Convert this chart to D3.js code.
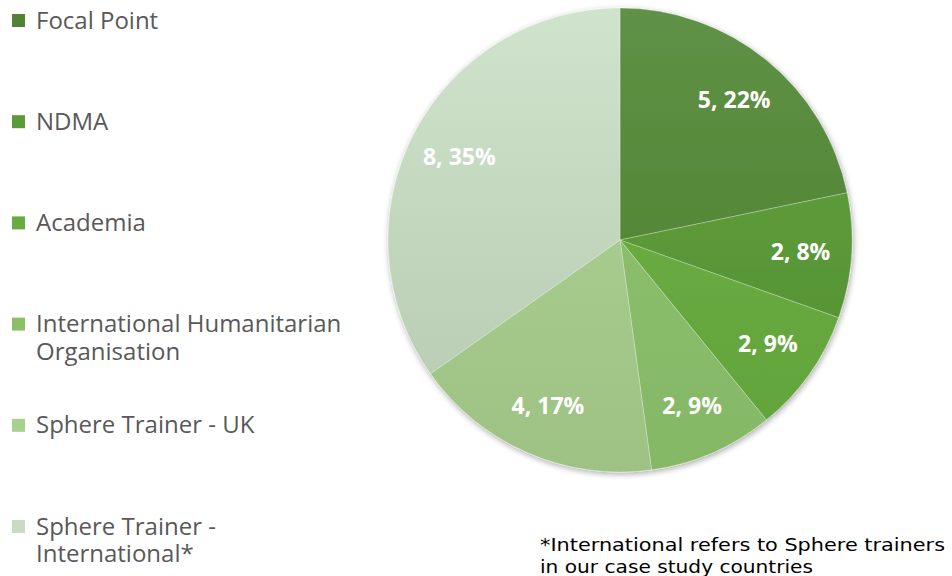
<!DOCTYPE html>
<html><head><meta charset="utf-8">
<script src="https://cdn.jsdelivr.net/npm/d3@7"></script>
<style>body{margin:0;background:#fff;}svg{display:block;}</style>
</head><body>
<svg id="c" width="952" height="576"></svg>
<script>
const categories = ["Focal Point","NDMA","Academia","International Humanitarian Organisation","Sphere Trainer - UK","Sphere Trainer - International*"];
const legendLines = [["Focal Point"],["NDMA"],["Academia"],["International Humanitarian","Organisation"],["Sphere Trainer - UK"],["Sphere Trainer -","International*"]];
const counts = [5,2,2,2,4,8];
const pctLabels = ["22%","8%","9%","9%","17%","35%"];
const colorsTop = ["#5f9147","#64a042","#70af48","#92c472","#afd497","#d0e3cc"];
const colorsBottom = ["#4a7e25","#51902e","#61a439","#84b865","#9dc284","#b4c9af"];
const legendColors = ["#548235","#5b9a37","#6aab40","#8cbf6a","#a9d08e","#c9dcc3"];
const footnote = ["*International refers to Sphere trainers","in our case study countries"];
const footnoteWidths = [405, 273];

const svg = d3.select("#c");
const cx = 620, cy = 240, R = 232;
const defs = svg.append("defs");
const f = defs.append("filter").attr("id","sh").attr("x","-10%").attr("y","-10%").attr("width","120%").attr("height","120%");
f.append("feGaussianBlur").attr("in","SourceAlpha").attr("stdDeviation",3);
f.append("feOffset").attr("dx",1).attr("dy",2).attr("result","b");
f.append("feComponentTransfer").append("feFuncA").attr("type","linear").attr("slope",0.35);
const m = f.append("feMerge"); m.append("feMergeNode"); m.append("feMergeNode").attr("in","SourceGraphic");

categories.forEach((c,i)=>{
  const g = defs.append("linearGradient").attr("id","g"+i).attr("gradientUnits","userSpaceOnUse")
    .attr("x1",0).attr("y1",-R).attr("x2",0).attr("y2",R);
  g.append("stop").attr("offset","0%").attr("stop-color",colorsTop[i]);
  g.append("stop").attr("offset","100%").attr("stop-color",colorsBottom[i]);
});

const pie = d3.pie().sort(null).value(d=>d);
const arcs = pie(counts);
const arc = d3.arc().innerRadius(0).outerRadius(R);
const labelArc = d3.arc().innerRadius(R*0.78).outerRadius(R*0.78);

const gp = svg.append("g").attr("transform",`translate(${cx},${cy})`);
gp.append("g").attr("filter","url(#sh)").selectAll("path").data(arcs).join("path")
  .attr("d",arc).attr("fill",(d,i)=>`url(#g${i})`)
  .attr("stroke","rgba(255,255,255,0.35)").attr("stroke-width",0.8);
gp.selectAll("text.lab").data(arcs).join("text").attr("class","lab")
  .attr("transform",d=>`translate(${labelArc.centroid(d)})`)
  .attr("text-anchor","middle").attr("dy","0.35em")
  .attr("font-family","'Open Sans', sans-serif").attr("font-weight","bold").attr("font-size",23)
  .attr("fill","#fff")
  .text((d,i)=>`${counts[i]}, ${pctLabels[i]}`);

const lg = svg.append("g");
const ly = d3.scalePoint().domain(categories).range([20,526]);
categories.forEach((c,i)=>{
  const y = ly(c);
  lg.append("rect").attr("x",12).attr("y",y-6).attr("width",13).attr("height",13).attr("fill",legendColors[i]);
  const t = lg.append("text").attr("x",36).attr("y",y)
    .attr("font-family","'Open Sans', sans-serif").attr("font-size",24).attr("fill","#595959");
  legendLines[i].forEach((l,j)=>t.append("tspan").attr("x",36).attr("dy",j===0?"0.36em":"1.15em").text(l));
});

const ft = svg.append("text").attr("font-family","'DejaVu Sans', sans-serif").attr("font-size",17).attr("fill","#000");
footnote.forEach((l,j)=>ft.append("tspan").attr("x",540).attr("y",551+j*22)
  .attr("textLength",footnoteWidths[j]).attr("lengthAdjust","spacingAndGlyphs").text(l));
</script>
</body></html>
